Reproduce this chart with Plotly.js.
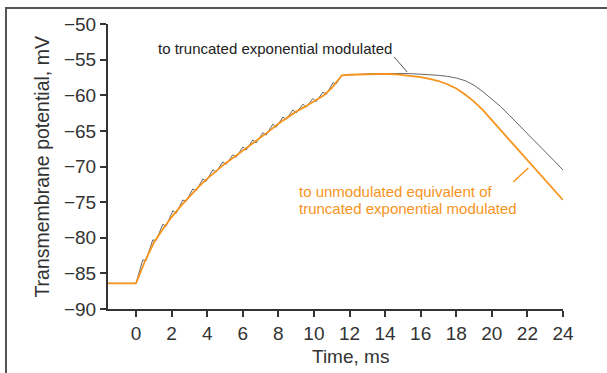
<!DOCTYPE html>
<html>
<head>
<meta charset="utf-8">
<script src="https://cdn.plot.ly/plotly-3.0.1.min.js"></script>
<style>
  html, body { margin: 0; padding: 0; background: #ffffff; }
  #frame { position: absolute; left: 5px; top: 7px; width: 602px; height: 366px;
           border-top: 2px solid #555; border-left: 2px solid #555; box-sizing: border-box; }
  #chart { position: absolute; left: 0; top: 0; width: 607px; height: 373px; }
</style>
</head>
<body>
<div id="frame"></div>
<div id="chart"></div>
<script>
// Unmodulated equivalent (orange) – time in ms, potential in mV
const orangeT = [-1.575, 0, 0.5, 1.0, 1.5, 2.0, 2.5, 3.0, 3.5, 4.0, 4.5, 5.0, 5.5, 6.0, 6.5, 7.0, 7.5, 8.0, 8.5, 9.0, 9.5, 10.0, 10.5, 11.0, 11.57,
  12.0, 12.5, 13.0, 13.5, 14.0, 14.5, 15.0, 15.5, 16.0, 16.5, 17.0, 17.5, 18.0, 18.5, 19.0, 19.5, 20.0, 20.5, 21.0, 21.5, 22.0, 22.5, 23.0, 23.5, 24.0];
const orangeV = [-86.4, -86.4, -83.3, -80.7, -78.8, -77.1, -75.6, -74.2, -72.9, -71.7, -70.6, -69.6, -68.7, -67.8, -66.9, -66.0, -65.0, -64.0, -63.1, -62.3, -61.6, -60.9, -60.1, -59.0, -57.2,
  -57.12, -57.07, -57.03, -57.0, -57.0, -57.05, -57.15, -57.28, -57.45, -57.7, -58.0, -58.45, -59.05, -59.9, -60.9, -62.1, -63.5, -64.9, -66.3, -67.7, -69.1, -70.5, -71.9, -73.3, -74.7];

// Truncated exponential modulated (thin dark line with sawtooth)
const blackT = [-1.575, 0, 0.38, 0.5625, 0.94, 1.125, 1.51, 1.6875, 2.07, 2.25, 2.63, 2.8125, 3.19, 3.375, 3.76, 3.9375, 4.32, 4.5, 4.88, 5.0625, 5.44, 5.625, 6.01, 6.1875, 6.57, 6.75, 7.13, 7.3125, 7.69, 7.875, 8.26, 8.4375, 8.82, 9.0, 9.38, 9.5625, 9.94, 10.125, 10.51, 10.6875, 11.07, 11.25, 11.57,
  12.0, 12.5, 13.0, 13.5, 14.0, 14.5, 15.0, 15.5, 16.0, 16.5, 17.0, 17.5, 18.0, 18.5, 19.0, 19.5, 20.0, 20.5, 21.0, 21.5, 22.0, 22.5, 23.0, 23.5, 24.0];
const blackV = [-86.4, -86.4, -83.1, -83.2, -80.3, -80.4, -78.1, -78.4, -76.2, -76.6, -74.7, -74.9, -73.15, -73.4, -71.75, -72.1, -70.45, -70.8, -69.35, -69.7, -68.35, -68.7, -67.25, -67.7, -66.25, -66.7, -65.25, -65.6, -64.05, -64.5, -63.05, -63.4, -62.05, -62.5, -61.25, -61.7, -60.45, -60.9, -59.55, -59.9, -58.25, -58.4, -57.2,
  -57.12, -57.05, -57.0, -56.96, -56.93, -56.92, -56.94, -56.98, -57.03, -57.1, -57.2, -57.35, -57.58, -57.95, -58.6, -59.5, -60.5, -61.6, -62.85, -64.15, -65.45, -66.7, -67.95, -69.2, -70.49];

const xTicks = [0, 2, 4, 6, 8, 10, 12, 14, 16, 18, 20, 22, 24];
const yTicks = [-90, -85, -80, -75, -70, -65, -60, -55, -50];

const xTitle = "Time, ms";
const yTitle = "Transmembrane potential, mV";
const labelBlack = "to truncated exponential modulated";
const labelOrange1 = "to unmodulated equivalent of";
const labelOrange2 = "truncated exponential modulated";

const ORANGE = "#f7941d";
const FONT = "Liberation Sans, Arial, Helvetica, sans-serif";

const traces = [
  { x: blackT, y: blackV, type: "scatter", mode: "lines",
    line: { color: "#666666", width: 1 }, hoverinfo: "skip" },
  { x: orangeT, y: orangeV, type: "scatter", mode: "lines",
    line: { color: ORANGE, width: 1.8 }, hoverinfo: "skip" }
];

const layout = {
  width: 607, height: 373,
  margin: { l: 108, r: 44, t: 24, b: 64, pad: 0 },
  paper_bgcolor: "rgba(0,0,0,0)",
  plot_bgcolor: "rgba(0,0,0,0)",
  showlegend: false,
  font: { family: FONT, size: 19, color: "#333333" },
  xaxis: {
    range: [-1.575, 24], tickvals: xTicks, ticktext: xTicks.map(String),
    showline: true, linecolor: "#333333", linewidth: 2,
    ticks: "outside", ticklen: 6, tickwidth: 2, tickcolor: "#333333",
    showgrid: false, zeroline: false,
    tickfont: { family: FONT, size: 19, color: "#333333" }
  },
  yaxis: {
    range: [-90, -50], tickvals: yTicks,
    showline: true, linecolor: "#333333", linewidth: 2,
    ticks: "outside", ticklen: 6, tickwidth: 2, tickcolor: "#333333",
    showgrid: false, zeroline: false,
    tickfont: { family: FONT, size: 19, color: "#333333" }
  },
  annotations: [
    { text: xTitle, xref: "paper", yref: "paper", x: 0.532, y: -0.165,
      xanchor: "center", yanchor: "middle", showarrow: false,
      font: { family: FONT, size: 19, color: "#333333" } },
    { text: yTitle, xref: "paper", yref: "paper", x: -0.147, y: 0.5,
      xanchor: "center", yanchor: "middle", showarrow: false, textangle: -90,
      font: { family: FONT, size: 19.5, color: "#333333" } },
    { text: labelBlack, xref: "x", yref: "y", x: 7.82, y: -53.4,
      xanchor: "center", yanchor: "middle", showarrow: false,
      font: { family: FONT, size: 15, color: "#222222" } },
    { text: labelOrange1, xref: "x", yref: "y", x: 9.05, y: -73.55,
      xanchor: "left", yanchor: "middle", showarrow: false,
      font: { family: FONT, size: 15, color: ORANGE } },
    { text: labelOrange2, xref: "x", yref: "y", x: 9.05, y: -75.9,
      xanchor: "left", yanchor: "middle", showarrow: false,
      font: { family: FONT, size: 15, color: ORANGE } }
  ],
  shapes: [
    { type: "line", xref: "x", yref: "y", x0: 14.51, y0: -54.63, x1: 15.24, y1: -56.74,
      line: { color: "#555555", width: 1 } },
    { type: "line", xref: "x", yref: "y", x0: 21.2, y0: -72.18, x1: 22.05, y1: -70.21,
      line: { color: ORANGE, width: 1.5 } }
  ]
};

Plotly.newPlot("chart", traces, layout, { displayModeBar: false, staticPlot: true });
</script>
</body>
</html>
